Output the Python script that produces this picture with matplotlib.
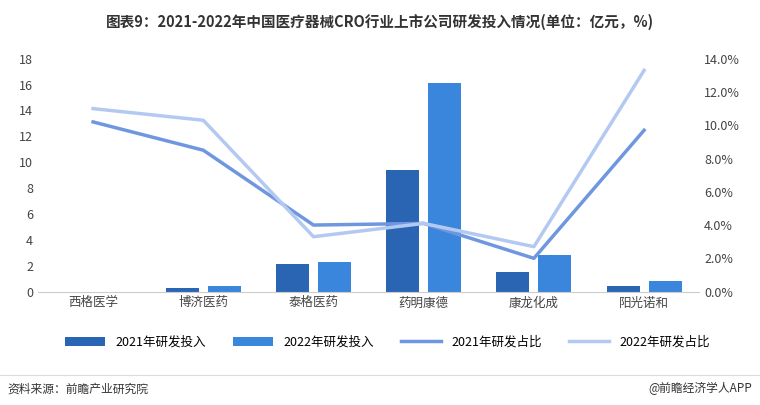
import matplotlib.pyplot as plt
import numpy as np
from matplotlib.ticker import FuncFormatter

plt.rcParams['font.family'] = ['Noto Sans CJK SC', 'DejaVu Sans']

companies = ['西格医学', '博济医药', '泰格医药', '药明康德', '康龙化成', '阳光诺和']
rd_2021 = [0, 0.25, 2.1, 9.4, 1.5, 0.45]
rd_2022 = [0, 0.4, 2.3, 16.1, 2.8, 0.85]
ratio_2021 = [10.2, 8.5, 4.0, 4.1, 2.0, 9.7]
ratio_2022 = [11.0, 10.3, 3.3, 4.1, 2.7, 13.3]

c1, c2 = '#2a65b4', '#3a86dc'
l1, l2 = '#6f97e0', '#b4c9f2'

fig = plt.figure(figsize=(7.6, 4.05), dpi=100)
ax = fig.add_axes([0.05, 0.28, 0.87, 0.575])
x = np.arange(len(companies))
w = 0.3
ax.bar(x - 0.19, rd_2021, w, color=c1, label='2021年研发投入')
ax.bar(x + 0.19, rd_2022, w, color=c2, label='2022年研发投入')
ax.set_ylim(0, 18)
ax.set_yticks(range(0, 19, 2))
ax.set_xlim(-0.5, 5.5)
ax.set_xticks(x)
ax.set_xticklabels(companies, fontsize=9, color='#444444')
ax.tick_params(length=0, labelsize=9, colors='#444444')
for s in ['top', 'right', 'left']:
    ax.spines[s].set_visible(False)
ax.spines['bottom'].set_color('#cccccc')

ax2 = ax.twinx()
ax2.plot(x, ratio_2021, color=l1, lw=2.5, label='2021年研发占比')
ax2.plot(x, ratio_2022, color=l2, lw=2.5, label='2022年研发占比')
ax2.set_ylim(0, 14)
ax2.set_yticks(range(0, 15, 2))
ax2.yaxis.set_major_formatter(FuncFormatter(lambda v, p: f'{v:.1f}%'))
ax2.tick_params(length=0, labelsize=9, colors='#444444')
for s in ['top', 'right', 'left', 'bottom']:
    ax2.spines[s].set_visible(False)

h1, lab1 = ax.get_legend_handles_labels()
h2, lab2 = ax2.get_legend_handles_labels()
fig.legend(h1 + h2, lab1 + lab2, loc='center', bbox_to_anchor=(0.51, 0.155), ncol=4,
           frameon=False, fontsize=9, handlelength=3.2, columnspacing=2.2)

fig.text(0.5, 0.945, '图表9：2021-2022年中国医疗器械CRO行业上市公司研发投入情况(单位：亿元，%)',
         ha='center', va='center', fontsize=10.5, fontweight='bold', color='#333333')
fig.add_artist(plt.Line2D([0.0, 1.0], [0.075, 0.075], color='#dddddd', lw=0.8))
fig.text(0.01, 0.04, '资料来源：前瞻产业研究院', fontsize=8.5, color='#333333', va='center')
fig.text(0.99, 0.04, '@前瞻经济学人APP', fontsize=8.5, color='#333333', va='center', ha='right')

fig.savefig('out.png', dpi=100)
